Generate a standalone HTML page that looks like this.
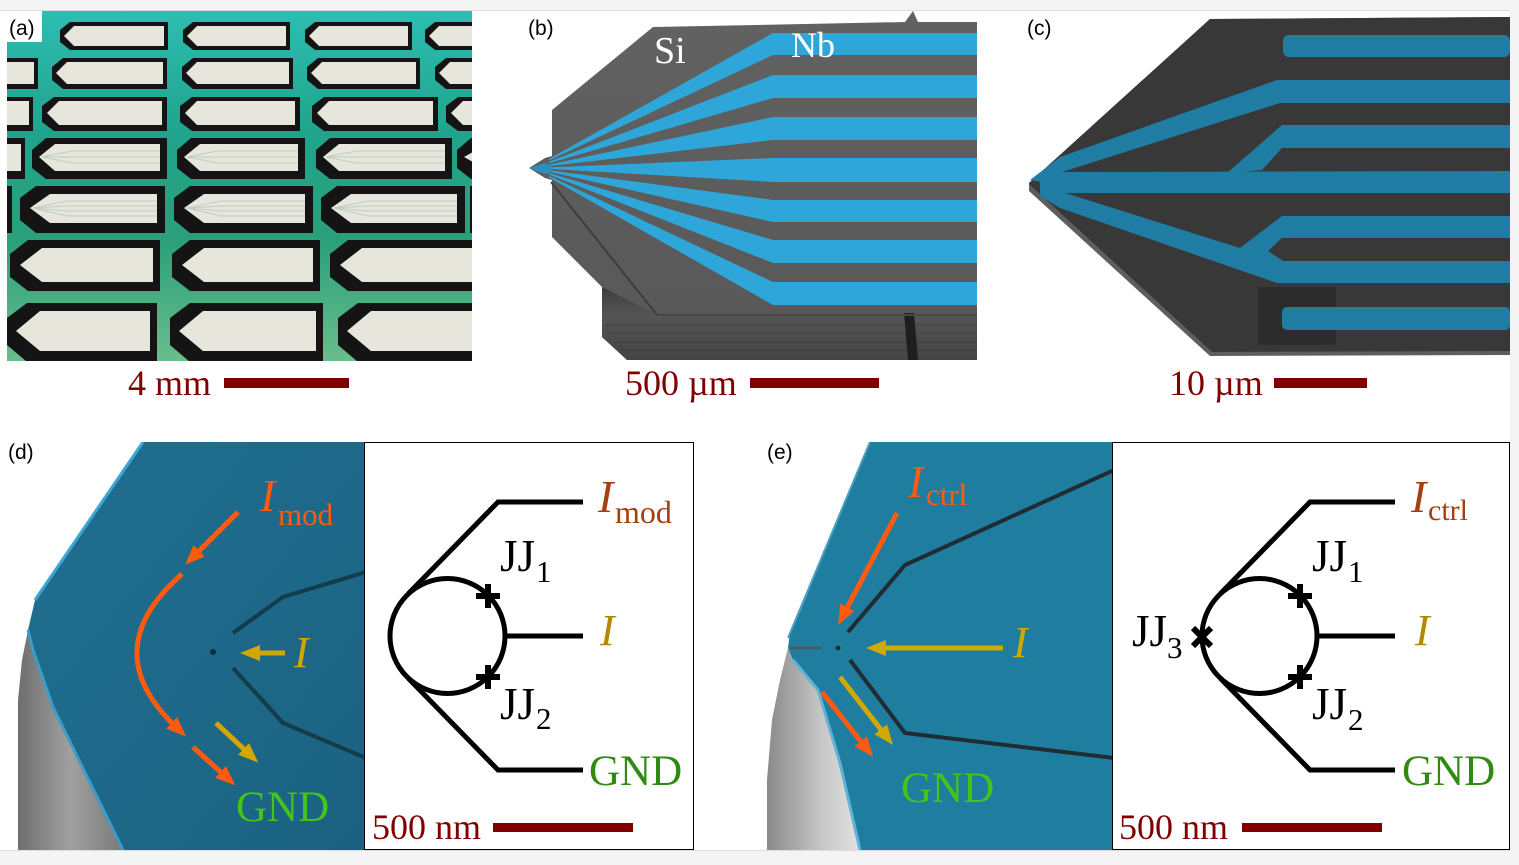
<!DOCTYPE html>
<html><head><meta charset="utf-8"><style>
html,body{margin:0;padding:0;background:#f4f4f4;width:1519px;height:865px;overflow:hidden}
svg{position:absolute;left:0;top:0}
.s{font-family:"Liberation Serif","Times New Roman",Times,"DejaVu Serif",serif}
.a{font-family:"Liberation Sans",Arial,Helvetica,sans-serif}
</style></head><body>
<svg width="1519" height="865" viewBox="0 0 1519 865" xmlns="http://www.w3.org/2000/svg">
<defs>
<linearGradient id="ga" x1="0" y1="0" x2="0" y2="1">
<stop offset="0" stop-color="#2dbdb2"/><stop offset="0.35" stop-color="#20a48c"/><stop offset="0.65" stop-color="#2a9f7a"/><stop offset="1" stop-color="#68be8c"/></linearGradient>
<linearGradient id="gb" x1="0" y1="0" x2="0" y2="1"><stop offset="0" stop-color="#626262"/><stop offset="1" stop-color="#575757"/></linearGradient>
<linearGradient id="gside" x1="0" y1="0" x2="0" y2="1"><stop offset="0" stop-color="#3c3c3c"/><stop offset="0.4" stop-color="#555"/><stop offset="1" stop-color="#444"/></linearGradient>
<linearGradient id="gd" x1="0" y1="0" x2="1" y2="1"><stop offset="0" stop-color="#206f91"/><stop offset="1" stop-color="#1b6281"/></linearGradient>
<linearGradient id="ggd" x1="0" y1="0" x2="1" y2="0"><stop offset="0" stop-color="#6e6e6e"/><stop offset="0.5" stop-color="#a0a0a0"/><stop offset="1" stop-color="#7a7a7a"/></linearGradient>
<linearGradient id="gge" x1="0" y1="0" x2="1" y2="0"><stop offset="0" stop-color="#8a8a8a"/><stop offset="0.6" stop-color="#c8c8c8"/><stop offset="1" stop-color="#e2e2e2"/></linearGradient>
<marker id="ao" viewBox="0 0 20 16" refX="6" refY="8" markerWidth="20" markerHeight="16" orient="auto" markerUnits="userSpaceOnUse"><path d="M0,0 L20,8 L0,16 z" fill="#ff5a0e"/></marker>
<marker id="ag" viewBox="0 0 20 16" refX="6" refY="8" markerWidth="20" markerHeight="16" orient="auto" markerUnits="userSpaceOnUse"><path d="M0,0 L20,8 L0,16 z" fill="#d2a800"/></marker>
<clipPath id="ca"><rect x="7" y="11" width="465" height="350"/></clipPath>
<clipPath id="cd"><rect x="18" y="442" width="346" height="408"/></clipPath>
<clipPath id="ce"><rect x="767" y="442" width="345" height="408"/></clipPath>
</defs>

<rect x="0" y="10" width="1510" height="840" fill="#ffffff"/>
<line x1="0" y1="10.5" x2="1510" y2="10.5" stroke="#dcdcdc" stroke-width="1"/>
<line x1="0" y1="850.5" x2="1510" y2="850.5" stroke="#dcdcdc" stroke-width="1"/>

<!-- ============ (a) photo ============ -->
<g clip-path="url(#ca)">
<rect x="7" y="11" width="465" height="350" fill="url(#ga)"/>
<g fill="#141414">
<polygon points="70,22 168,22 168,50 70,50 60,42 60,30"/>
<polygon points="193,22 290,22 290,50 193,50 183,42 183,30"/>
<polygon points="315,22 412,22 412,50 315,50 305,42 305,30"/>
<polygon points="435,22 480,22 480,50 435,50 425,42 425,30"/>
<polygon points="0,58 38,58 38,89 0,89"/>
<polygon points="63,58 167,58 167,89 63,89 52,80 52,67"/>
<polygon points="193,58 293,58 293,89 193,89 182,80 182,67"/>
<polygon points="318,58 420,58 420,89 318,89 307,80 307,67"/>
<polygon points="446,58 480,58 480,89 446,89 435,80 435,67"/>
<polygon points="0,97 33,97 33,131 0,131"/>
<polygon points="54,97 167,97 167,131 54,131 42,122 42,106"/>
<polygon points="192,97 300,97 300,131 192,131 180,122 180,106"/>
<polygon points="324,97 438,97 438,131 324,131 312,122 312,106"/>
<polygon points="458,97 480,97 480,131 458,131 446,122 446,106"/>
<polygon points="0,138 25,138 25,179 0,179"/>
<polygon points="46,138 167,138 167,179 46,179 32,168 32,150"/>
<polygon points="191,138 305,138 305,179 191,179 177,168 177,150"/>
<polygon points="330,138 452,138 452,179 330,179 316,168 316,150"/>
<polygon points="471,138 480,138 480,179 471,179 457,168 457,150"/>
<polygon points="0,186 12,186 12,233 0,233"/>
<polygon points="36,186 165,186 165,233 36,233 20,220 20,198"/>
<polygon points="190,186 313,186 313,233 190,233 174,220 174,198"/>
<polygon points="337,186 465,186 465,233 337,233 321,220 321,198"/>
<polygon points="470,186 480,186 480,233 470,233"/>
<polygon points="28,240 160,240 160,291 28,291 10,277 10,254"/>
<polygon points="190,240 320,240 320,291 190,291 172,277 172,254"/>
<polygon points="348,240 480,240 480,291 348,291 330,277 330,254"/>
<polygon points="27,303 157,303 157,362 27,362 7,345 7,318"/>
<polygon points="190,303 323,303 323,362 190,362 170,345 170,318"/>
<polygon points="358,303 480,303 480,362 358,362 338,345 338,318"/>
</g>
<g fill="#e6e6dc">
<polygon points="64,36 74,26 164,26 164,46 74,46"/>
<polygon points="187,36 197,26 286,26 286,46 197,46"/>
<polygon points="309,36 319,26 408,26 408,46 319,46"/>
<polygon points="429,36 439,26 480,26 480,46 439,46"/>
<polygon points="7,62 34,62 34,84 7,84"/>
<polygon points="56,73 67,62 163,62 163,84 67,84"/>
<polygon points="186,73 197,62 289,62 289,84 197,84"/>
<polygon points="311,73 322,62 416,62 416,84 322,84"/>
<polygon points="439,73 450,62 480,62 480,84 450,84"/>
<polygon points="7,101 29,101 29,125 7,125"/>
<polygon points="47,113 59,101 162,101 162,125 59,125"/>
<polygon points="185,113 197,101 295,101 295,125 197,125"/>
<polygon points="317,113 329,101 433,101 433,125 329,125"/>
<polygon points="451,113 463,101 480,101 480,125 463,125"/>
<polygon points="7,144 21,144 21,171 7,171"/>
<polygon points="39,157 55,144 160,144 160,171 55,171"/>
<polygon points="184,157 200,144 298,144 298,171 200,171"/>
<polygon points="323,157 339,144 445,144 445,171 339,171"/>
<polygon points="464,157 480,148 480,166"/>
<polygon points="30,208 50,194 157,194 157,223 50,223"/>
<polygon points="184,208 204,194 305,194 305,223 204,223"/>
<polygon points="331,208 351,194 457,194 457,223 351,223"/>
<polygon points="20,265 42,248 153,248 153,282 42,282"/>
<polygon points="182,265 204,248 313,248 313,282 204,282"/>
<polygon points="340,265 362,248 473,248 473,282 362,282"/>
<polygon points="16,331 40,311 150,311 150,351 40,351"/>
<polygon points="179,331 203,311 316,311 316,351 203,351"/>
<polygon points="347,331 371,311 473,311 473,351 371,351"/>
</g>
<g stroke="#b3c9bb" stroke-width="1" fill="none" opacity="0.8">
<path d="M42,157 L72,151 H160 M42,157 L72,157 H160 M42,157 L72,163 H160"/>
<path d="M187,157 L217,151 H298 M187,157 L217,157 H298 M187,157 L217,163 H298"/>
<path d="M326,157 L356,151 H445 M326,157 L356,157 H445 M326,157 L356,163 H445"/>
<path d="M33,208 L67,201 H157 M33,208 L67,206 H157 M33,208 L67,211 H157 M33,208 L67,216 H157"/>
<path d="M187,208 L221,201 H305 M187,208 L221,206 H305 M187,208 L221,211 H305 M187,208 L221,216 H305"/>
<path d="M334,208 L368,201 H457 M334,208 L368,206 H457 M334,208 L368,211 H457 M334,208 L368,216 H457"/>
</g>
</g>
<rect x="7" y="11" width="35" height="31" fill="#ffffff"/>
<text x="9" y="35" class="a" font-size="21" fill="#000">(a)</text>

<!-- ============ (b) ============ -->
<polygon points="529,168 545,158 552,156 552,110 653,27 905,22 913,11 918,22 977,22 977,360 627,360 602,337 602,287 552,237 552,180 545,178" fill="url(#gb)"/>
<polygon points="602,287 657,315 977,315 977,360 627,360 602,337" fill="url(#gside)"/>
<g stroke="#383838" stroke-width="1" opacity="0.6">
<line x1="606" y1="325" x2="977" y2="325"/><line x1="608" y1="333" x2="977" y2="333"/><line x1="614" y1="342" x2="977" y2="342"/><line x1="620" y1="350" x2="977" y2="350"/>
</g>
<polygon points="904,313 914,313 918,360 908,360" fill="#1e1e1e"/>
<line x1="551" y1="182" x2="657" y2="315" stroke="#3e3e3e" stroke-width="2"/>
<line x1="657" y1="315" x2="977" y2="315" stroke="#474747" stroke-width="2"/>
<g fill="#2fa6d9">
<polygon points="977,33 773,33 549,159 549,160.5 773,55 977,55"/>
<polygon points="977,75 773,75 549,161.8 549,163.3 773,98 977,98"/>
<polygon points="977,117 773,117 549,164.6 549,166.1 773,140 977,140"/>
<polygon points="977,158 773,158 549,167.4 549,168.9 773,182 977,182"/>
<polygon points="977,200 773,200 549,170.2 549,171.7 773,222 977,222"/>
<polygon points="977,240 773,240 549,173 549,174.5 773,263 977,263"/>
<polygon points="977,282 773,282 549,175.8 549,177.3 773,305 977,305"/>
</g>
<polygon points="529,168 545,163 552,165 552,172 545,174" fill="#2a8fbc"/>
<text x="654" y="63" class="s" font-size="38" fill="#ffffff">Si</text>
<text x="791" y="57" class="s" font-size="36" fill="#ffffff">Nb</text>
<text x="528" y="35" class="a" font-size="21" fill="#000">(b)</text>

<!-- ============ (c) ============ -->
<polygon points="1029,183 1210,19 1510,17 1510,355 1210,356 1029,191" fill="#5e5e5e"/>
<polygon points="1029,183 1210,19 1510,17 1510,351 1212,352 1031,186" fill="#383838"/>
<rect x="1258" y="287" width="78" height="58" fill="#2c2c2c"/>
<g fill="#1f7da4">
<rect x="1283" y="35" width="227" height="22" rx="6"/>
<polygon points="1030,180 1060,157 1277,80 1510,80 1510,103 1280,103 1062,172 1042,182"/>
<polygon points="1040,178 1062,172 1510,171 1510,193 1062,193 1040,190"/>
<polygon points="1227,173 1282,125 1510,125 1510,148 1282,148 1262,170"/>
<polygon points="1040,186 1062,192 1240,248 1282,216 1510,216 1510,238 1282,238 1268,251 1283,261 1510,261 1510,283 1277,283 1060,208 1040,196"/>
<rect x="1282" y="307" width="228" height="23" rx="5"/>
</g>
<text x="1027" y="35" class="a" font-size="21" fill="#000">(c)</text>

<!-- scale bars top -->
<g class="s" font-size="36" fill="#800000">
<text x="128" y="395">4 mm</text>
<text x="625" y="395">500 µm</text>
<text x="1169" y="395">10 µm</text>
</g>
<g fill="#800000">
<rect x="224" y="378" width="125" height="10"/>
<rect x="750" y="378" width="129" height="10"/>
<rect x="1274" y="378" width="93" height="10"/>
</g>

<!-- ============ (d) SEM ============ -->
<g clip-path="url(#cd)">
<polygon points="18,850 18,700 22,660 28,630 33,650 53,707 123,850" fill="url(#ggd)"/>
<polygon points="143,442 364,442 364,850 123,850 53,707 33,650 28,630 35,600" fill="url(#gd)"/>
<polyline points="35,600 143,442" fill="none" stroke="#3ea6d6" stroke-width="3"/>
<polyline points="28,630 33,650 53,707 123,850" fill="none" stroke="#3b9cc8" stroke-width="3"/>
<polyline points="233,633 283,597 366,572" fill="none" stroke="#143c4c" stroke-width="4"/>
<polyline points="233,668 283,723 366,758" fill="none" stroke="#143c4c" stroke-width="4"/>
<circle cx="213" cy="652" r="3" fill="#0f2f3c"/>
</g>
<g fill="none" stroke-width="5">
<line x1="238" y1="512" x2="195" y2="555" stroke="#ff5a0e" marker-end="url(#ao)"/>
<path d="M182,574 Q95,650 176,727" stroke="#ff5a0e" marker-end="url(#ao)"/>
<line x1="193" y1="747" x2="225" y2="776" stroke="#ff5a0e" marker-end="url(#ao)"/>
<line x1="285" y1="653" x2="254" y2="653" stroke="#d2a800" marker-end="url(#ag)"/>
<line x1="216" y1="723" x2="248" y2="753" stroke="#d2a800" marker-end="url(#ag)"/>
</g>
<g class="s">
<text x="260" y="511" font-size="46" font-style="italic" fill="#ff5a0e">I</text>
<text x="278" y="525" font-size="31" fill="#ff5a0e">mod</text>
<text x="294" y="667" font-size="44" font-style="italic" fill="#d2a800">I</text>
<text x="236" y="821" font-size="43" fill="#44c41a">GND</text>
</g>
<text x="8" y="459" class="a" font-size="21" fill="#000">(d)</text>

<!-- ============ (d) circuit ============ -->
<rect x="364.5" y="442.5" width="329" height="407" fill="#fff" stroke="#000" stroke-width="1"/>
<g fill="none" stroke="#000" stroke-width="5">
<circle cx="447.5" cy="636" r="57.5"/>
<polyline points="583,502 498,502 408,594"/>
<polyline points="583,770 498,770 408,678"/>
<line x1="505" y1="636" x2="583" y2="636"/>
</g>
<g stroke="#000" stroke-width="6">
<line x1="476" y1="596" x2="500" y2="596"/><line x1="488" y1="584" x2="488" y2="608"/>
<line x1="476" y1="677" x2="500" y2="677"/><line x1="488" y1="665" x2="488" y2="689"/>
</g>
<g class="s">
<text x="598" y="512" font-size="46" font-style="italic" fill="#a63f0e">I</text>
<text x="615" y="523" font-size="32" fill="#a63f0e">mod</text>
<text x="500" y="571" font-size="45" fill="#000">JJ</text>
<text x="536" y="582" font-size="31" fill="#000">1</text>
<text x="500" y="719" font-size="45" fill="#000">JJ</text>
<text x="536" y="729" font-size="31" fill="#000">2</text>
<text x="600" y="645" font-size="44" font-style="italic" fill="#b08a00">I</text>
<text x="589" y="785" font-size="43" fill="#2f8a10">GND</text>
<text x="372" y="839" font-size="36" fill="#800000">500 nm</text>
</g>
<rect x="493" y="823" width="140" height="9" fill="#800000"/>

<!-- ============ (e) SEM ============ -->
<g clip-path="url(#ce)">
<polygon points="767,850 767,780 772,720 780,680 788,648 793,660 818,690 840,763 860,850" fill="url(#gge)"/>
<polygon points="870,442 1112,442 1112,850 860,850 840,763 818,690 793,660 788,648 790,632 800,612" fill="#1f7ea0"/>
<polyline points="788,638 870,442" fill="none" stroke="#4a9ec0" stroke-width="2"/>
<polyline points="793,660 818,690 840,763 860,850" fill="none" stroke="#5fb3d6" stroke-width="3"/>
<polyline points="848,632 905,565 1114,470" fill="none" stroke="#1f2c33" stroke-width="4"/>
<polyline points="850,660 905,733 1114,758" fill="none" stroke="#1f2c33" stroke-width="4"/>
<line x1="790" y1="648" x2="822" y2="648" stroke="#4a5a62" stroke-width="3"/>
<circle cx="838" cy="648" r="2.5" fill="#1a2a30"/>
</g>
<g fill="none" stroke-width="5">
<line x1="897" y1="513" x2="844.5" y2="612.6" stroke="#ff5a0e" marker-end="url(#ao)"/>
<line x1="1003" y1="648" x2="880" y2="648" stroke="#d2a800" marker-end="url(#ag)"/>
<line x1="840" y1="677" x2="884.4" y2="734" stroke="#d2a800" marker-end="url(#ag)"/>
<line x1="822" y1="692" x2="864.4" y2="746" stroke="#ff5a0e" marker-end="url(#ao)"/>
</g>
<g class="s">
<text x="908" y="497" font-size="46" font-style="italic" fill="#ff5a0e">I</text>
<text x="926" y="505" font-size="31" fill="#ff5a0e">ctrl</text>
<text x="1013" y="657" font-size="44" font-style="italic" fill="#d2a800">I</text>
<text x="901" y="802" font-size="43" fill="#44c41a">GND</text>
</g>
<text x="767" y="459" class="a" font-size="21" fill="#000">(e)</text>

<!-- ============ (e) circuit ============ -->
<rect x="1112.5" y="442.5" width="397" height="407" fill="#fff" stroke="#000" stroke-width="1"/>
<g fill="none" stroke="#000" stroke-width="5">
<circle cx="1259.5" cy="636" r="57.5"/>
<polyline points="1395,502 1310,502 1220,594"/>
<polyline points="1395,770 1310,770 1220,678"/>
<line x1="1317" y1="636" x2="1395" y2="636"/>
</g>
<g stroke="#000" stroke-width="6">
<line x1="1288" y1="596" x2="1312" y2="596"/><line x1="1300" y1="584" x2="1300" y2="608"/>
<line x1="1288" y1="677" x2="1312" y2="677"/><line x1="1300" y1="665" x2="1300" y2="689"/>
<line x1="1193" y1="628" x2="1211" y2="646"/><line x1="1193" y1="646" x2="1211" y2="628"/>
</g>
<g class="s">
<text x="1411" y="512" font-size="46" font-style="italic" fill="#a63f0e">I</text>
<text x="1428" y="520" font-size="30" fill="#a63f0e">ctrl</text>
<text x="1312" y="571" font-size="45" fill="#000">JJ</text>
<text x="1348" y="582" font-size="31" fill="#000">1</text>
<text x="1312" y="719" font-size="45" fill="#000">JJ</text>
<text x="1348" y="730" font-size="31" fill="#000">2</text>
<text x="1132" y="646" font-size="45" fill="#000">JJ</text>
<text x="1167" y="658" font-size="31" fill="#000">3</text>
<text x="1415" y="645" font-size="44" font-style="italic" fill="#b08a00">I</text>
<text x="1402" y="785" font-size="43" fill="#2f8a10">GND</text>
<text x="1119" y="839" font-size="36" fill="#800000">500 nm</text>
</g>
<rect x="1242" y="823" width="140" height="9" fill="#800000"/>
</svg>
</body></html>
